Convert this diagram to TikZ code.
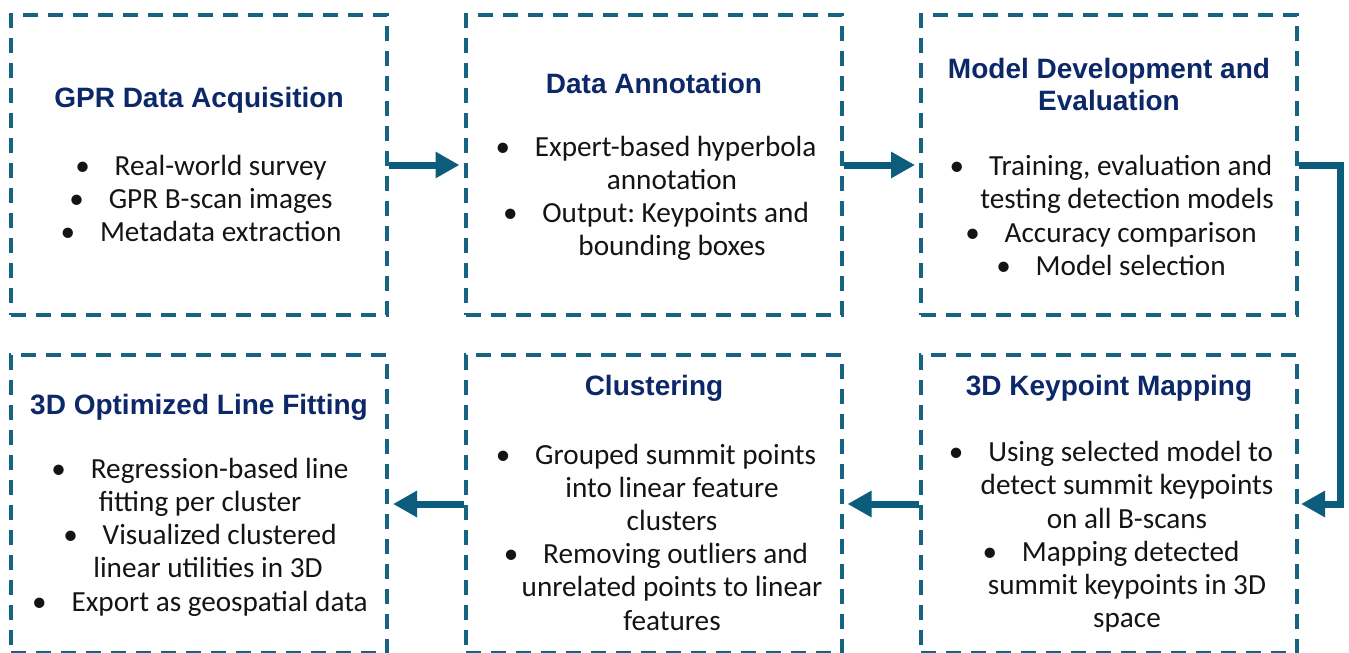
\documentclass[tikz,border=0pt]{standalone}
\usepackage{fontspec}
\setmainfont{Carlito}
\newfontfamily\titlefont{Liberation Sans}
\usetikzlibrary{arrows.meta}
\definecolor{dashc}{RGB}{22,100,130}
\definecolor{arrc}{RGB}{12,92,124}
\definecolor{titc}{RGB}{12,40,105}
\definecolor{txtc}{RGB}{20,20,20}
\newcommand{\bul}{\textbullet\hspace{0.85em}}
\newcommand{\cnt}{\hspace*{16pt}}
\frenchspacing
\tikzset{
  box/.style={draw=dashc, line width=2pt, dash pattern=on 7.5pt off 5pt, minimum width=188pt, inner sep=0pt},
  toprow/.style={box, minimum height=150pt},
  botrow/.style={box, minimum height=149pt},
  ttl/.style={font=\titlefont\bfseries\fontsize{14}{16}\selectfont, text=titc, align=center, inner sep=0pt},
  bod/.style={font=\fontsize{14.6}{16.6}\selectfont, text=txtc, align=center, inner sep=0pt},
  arr/.style={draw=arrc, line width=3.5pt, -{Triangle[length=12pt,width=12.5pt]}, shorten >=2pt},
}
\begin{document}
\begin{tikzpicture}[x=0.5pt,y=-0.5pt]
\useasboundingbox (0,0) rectangle (1349,653);
\node[toprow] (b1) at (199,165) {};
\node[toprow] (b2) at (653.5,165) {};
\node[toprow] (b3) at (1109,165) {};
\node[botrow] (b4) at (199,504) {};
\node[botrow] (b5) at (653.5,504) {};
\node[botrow] (b6) at (1109,504) {};

\node[ttl] (t1) at (199,100) {GPR Data Acquisition};
\node[bod] (x1) at (201,198.5) {\bul Real-world survey\\ \bul GPR B-scan images\\ \bul Metadata extraction};

\node[ttl] (t2) at (654,83) {Data Annotation};
\node[bod] (x2) at (656,198.5) {\bul Expert-based hyperbola\\ \cnt annotation\\ \bul Output: Keypoints and\\ \cnt bounding boxes};

\node[ttl] (t3) at (1109,84) {Model Development and\\ Evaluation};
\node[bod] (x3) at (1111,215.5) {\bul Training, evaluation and\\ \cnt testing detection models\\ \bul Accuracy comparison\\ \bul Model selection};

\node[ttl] (t4) at (199,407) {3D Optimized Line Fitting};
\node[bod] (x4) at (200,537) {\bul Regression-based line\\ fitting per cluster\\ \bul Visualized clustered\\ \hspace*{8pt}linear utilities in 3D\\ \bul Export as geospatial data};

\node[ttl] (t5) at (654,388) {Clustering};
\node[bod] (x5) at (656,537) {\bul Grouped summit points\\ \cnt into linear feature\\ \cnt clusters\\ \bul Removing outliers and\\ \cnt unrelated points to linear\\ \cnt features};

\node[ttl] (t6) at (1109,388) {3D Keypoint Mapping};
\node[bod] (x6) at (1111,537) {\bul Using selected model to\\ \cnt detect summit keypoints\\ \cnt on all B-scans\\ \bul Mapping detected\\ \cnt summit keypoints in 3D\\ \cnt space};

\coordinate (rt) at (1340,0);
\draw[arr] (b1.east) -- (b2.west);
\draw[arr] (b2.east) -- (b3.west);
\draw[arr, shorten >=1pt] (b3.east) -- (b3.east -| rt) |- (b6.east);
\draw[arr] (b6.west) -- (b5.east);
\draw[arr] (b5.west) -- (b4.east);
\end{tikzpicture}
\end{document}
